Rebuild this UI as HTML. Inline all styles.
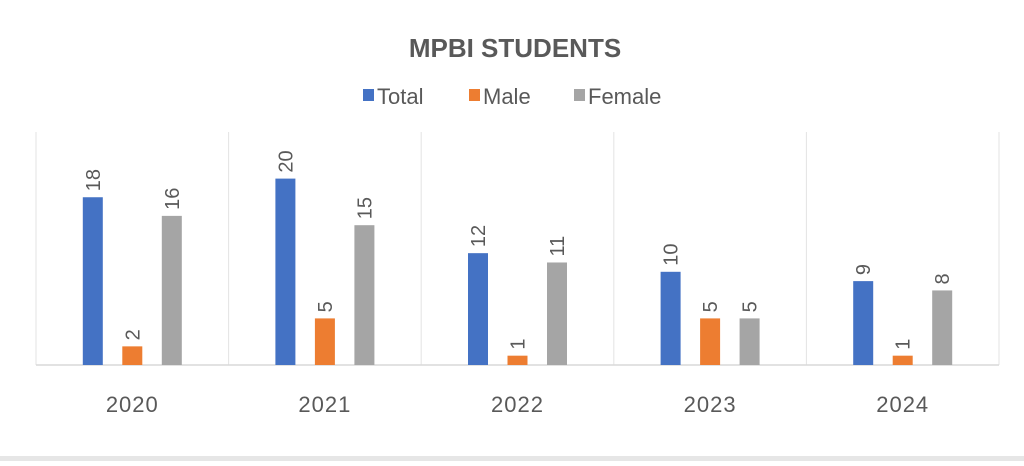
<!DOCTYPE html>
<html><head><meta charset="utf-8"><style>
body{margin:0;background:#fff;width:1024px;height:461px;overflow:hidden;font-family:"Liberation Sans",sans-serif}
</style></head><body>
<svg width="1024" height="461">
<rect x="0" y="456" width="1024" height="5" fill="#e6e6e6"/>
<text x="515" y="57" text-anchor="middle" font-size="26" font-weight="bold" fill="#595959">MPBI STUDENTS</text>
<g id="legend"></g>
<g id="plot"></g>
</svg>
<script>
const categories=["2020","2021","2022","2023","2024"];
const seriesNames=["Total","Male","Female"];
const totalValues=[18,20,12,10,9];
const maleValues=[2,5,1,5,1];
const femaleValues=[16,15,11,5,8];
const colors=["#4472c4","#ed7d31","#a5a5a5"];
const NS="http://www.w3.org/2000/svg";
const plot=document.getElementById('plot');
const legend=document.getElementById('legend');
const x0=36,x1=999,yBase=365,yTop=132,yMax=25;
const catW=(x1-x0)/categories.length;
function yScale(v){return yBase-(v/yMax)*(yBase-yTop);}
function xCenter(i){return x0+catW*(i+0.5);}
function mk(tag,attrs){const e=document.createElementNS(NS,tag);for(const k in attrs)e.setAttribute(k,attrs[k]);return e;}
for(let i=0;i<=categories.length;i++){
  const l=mk('line',{x1:x0+catW*i,x2:x0+catW*i,y1:yTop,y2:yBase,stroke:'#e3e3e3','stroke-width':1});
  
  
  plot.appendChild(l);
}
const ax=mk('line',{x1:x0,x2:x1,y1:yBase,y2:yBase,stroke:'#d9d9d9','stroke-width':1.5});


plot.appendChild(ax);
const series=[totalValues,maleValues,femaleValues];
const offsets=[-39.5,0,39.5];
const bw=20;
categories.forEach((c,i)=>{
  const cx=xCenter(i);
  series.forEach((vals,s)=>{
    const v=vals[i];const y=yScale(v);const bx=cx+offsets[s]-bw/2;
    const r=mk('rect',{x:bx,y:y,width:bw,height:yBase-y,fill:colors[s]});
    
    
    plot.appendChild(r);
    const tx=cx+offsets[s]+7,ty=y-6;
    const t=mk('text',{x:tx,y:ty,transform:`rotate(-90 ${tx} ${ty})`,'font-size':20,fill:'#595959'});
    t.textContent=v;
    
    
    plot.appendChild(t);
  });
  const lt=mk('text',{x:cx,y:412,'text-anchor':'middle','font-size':22,fill:'#595959','letter-spacing':'1'});
  lt.textContent=c;
  
  
  plot.appendChild(lt);
});
const legX=[363,469,574];
seriesNames.forEach((n,s)=>{
  const sq=mk('rect',{x:legX[s],y:89,width:11,height:12,fill:colors[s]});
  
  
  legend.appendChild(sq);
  const t=mk('text',{x:legX[s]+14,y:104,'font-size':22,fill:'#595959'});
  t.textContent=n;
  
  
  legend.appendChild(t);
});
</script>
</body></html>
